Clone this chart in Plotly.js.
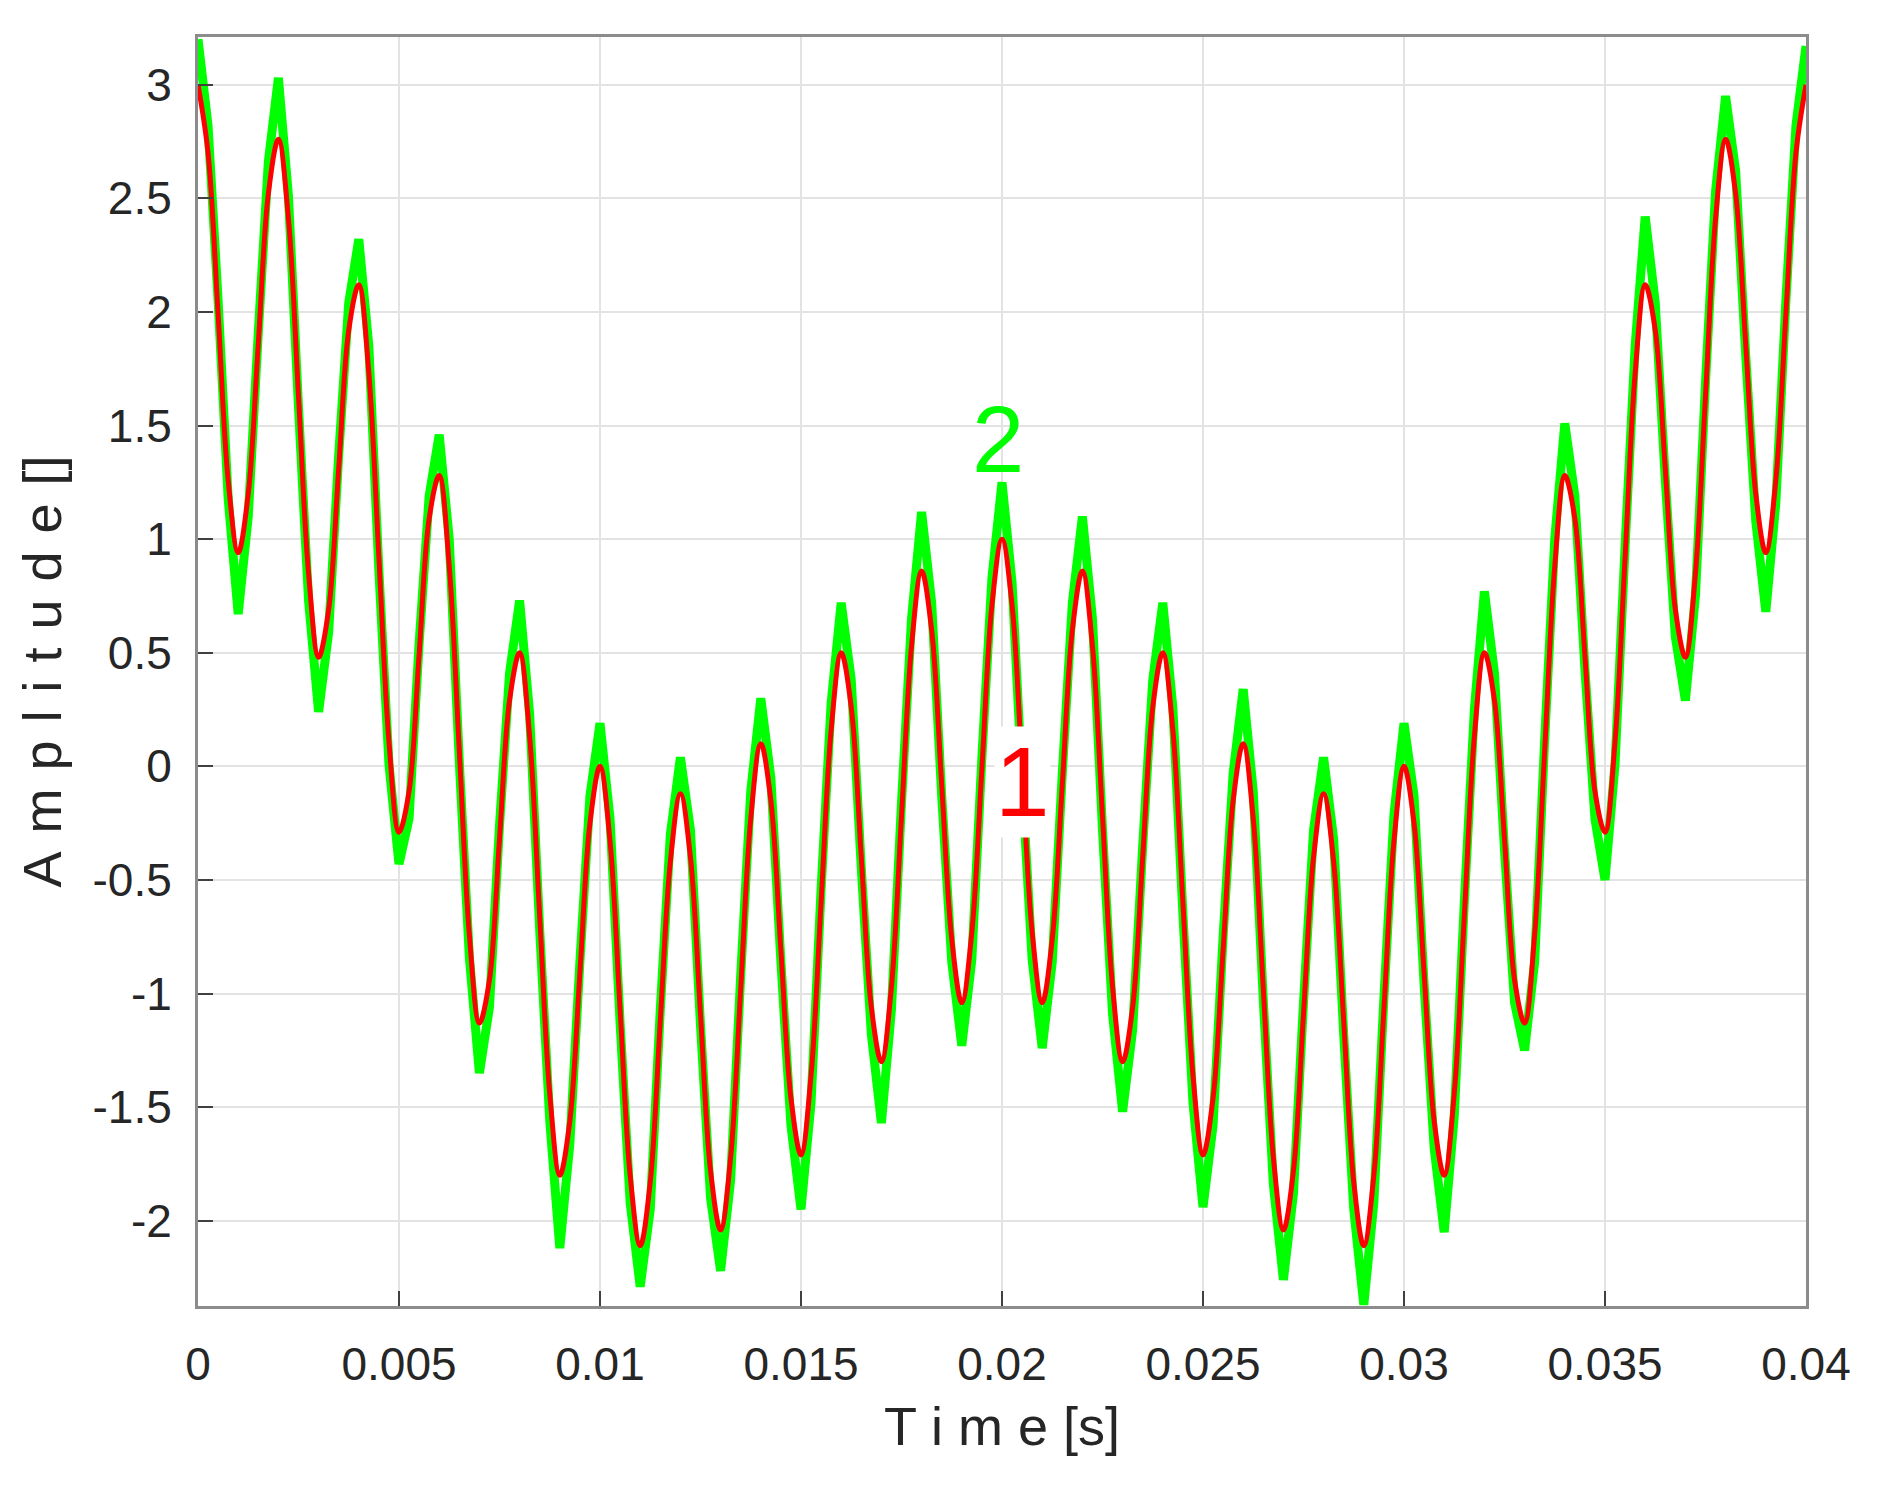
<!DOCTYPE html>
<html>
<head>
<meta charset="utf-8">
<script src="https://cdn.plot.ly/plotly-3.0.1.min.js"></script>
<style>
html,body{margin:0;padding:0;background:#fff;}
#chart{width:1894px;height:1488px;}
</style>
</head>
<body>
<div id="chart"></div>
<script>
// sample spacing of both signals (s)
var t0 = 0;
var dt = 0.00025;

// signal 1 (red, clean)
var signal1 = [
  3.00, 2.70, 1.99, 1.26, 0.94, 1.20, 1.86, 2.52,
  2.76, 2.41, 1.63, 0.85, 0.48, 0.69, 1.31, 1.92,
  2.12, 1.73, 0.92, 0.11, -0.29, -0.11, 0.49, 1.09,
  1.28, 0.88, 0.07, -0.74, -1.13, -0.94, -0.32, 0.29,
  0.50, 0.13, -0.66, -1.44, -1.80, -1.56, -0.91, -0.25,
  0.00, -0.33, -1.07, -1.80, -2.11, -1.83, -1.12, -0.42,
  -0.12, -0.40, -1.09, -1.78, -2.04, -1.72, -0.98, -0.23,
  0.10, -0.15, -0.81, -1.46, -1.71, -1.36, -0.60, 0.16,
  0.50, 0.26, -0.40, -1.06, -1.30, -0.97, -0.22, 0.53,
  0.86, 0.60, -0.08, -0.76, -1.04, -0.73, -0.01, 0.71,
  1.00,
  0.71, -0.01, -0.73, -1.04, -0.76, -0.08, 0.60, 0.86,
  0.53, -0.22, -0.97, -1.30, -1.06, -0.40, 0.26, 0.50,
  0.16, -0.60, -1.36, -1.71, -1.46, -0.81, -0.15, 0.10,
  -0.23, -0.98, -1.72, -2.04, -1.78, -1.09, -0.40, -0.12,
  -0.42, -1.12, -1.83, -2.11, -1.80, -1.07, -0.33, 0.00,
  -0.25, -0.91, -1.56, -1.80, -1.44, -0.66, 0.13, 0.50,
  0.29, -0.32, -0.94, -1.13, -0.74, 0.07, 0.88, 1.28,
  1.09, 0.49, -0.11, -0.29, 0.11, 0.92, 1.73, 2.12,
  1.92, 1.31, 0.69, 0.48, 0.85, 1.63, 2.41, 2.76,
  2.52, 1.86, 1.20, 0.94, 1.26, 1.99, 2.70, 3.00
];

// signal 2 (green, noisy)
var signal2 = [
  3.20, 2.82, 2.05, 1.18, 0.67, 1.10, 1.91, 2.66,
  3.03, 2.51, 1.58, 0.73, 0.24, 0.59, 1.37, 2.04,
  2.32, 1.85, 0.86, 0.01, -0.43, -0.23, 0.54, 1.19,
  1.46, 1.00, 0.02, -0.84, -1.35, -1.06, -0.26, 0.41,
  0.73, 0.23, -0.72, -1.56, -2.12, -1.66, -0.86, -0.13,
  0.19, -0.23, -1.13, -1.92, -2.29, -1.95, -1.07, -0.30,
  0.04, -0.28, -1.14, -1.90, -2.22, -1.82, -0.92, -0.11,
  0.30, -0.05, -0.86, -1.58, -1.95, -1.48, -0.54, 0.28,
  0.72, 0.38, -0.45, -1.18, -1.57, -1.07, -0.16, 0.65,
  1.12, 0.72, -0.13, -0.86, -1.23, -0.85, 0.04, 0.83,
  1.25,
  0.81, -0.07, -0.85, -1.24, -0.86, -0.03, 0.72, 1.10,
  0.65, -0.28, -1.09, -1.52, -1.16, -0.35, 0.38, 0.72,
  0.26, -0.65, -1.48, -1.94, -1.58, -0.75, -0.03, 0.34,
  -0.11, -1.03, -1.84, -2.26, -1.88, -1.04, -0.28, 0.04,
  -0.32, -1.18, -1.95, -2.37, -1.92, -1.02, -0.21, 0.19,
  -0.13, -0.96, -1.68, -2.05, -1.54, -0.60, 0.25, 0.77,
  0.41, -0.37, -1.04, -1.25, -0.86, 0.12, 1.00, 1.51,
  1.19, 0.43, -0.23, -0.50, 0.01, 0.97, 1.85, 2.42,
  2.04, 1.26, 0.57, 0.29, 0.75, 1.69, 2.53, 2.95,
  2.62, 1.81, 1.08, 0.68, 1.16, 2.05, 2.82, 3.17
];

var xTicks = [0, 0.005, 0.01, 0.015, 0.02, 0.025, 0.03, 0.035, 0.04];
var xTickLabels = ['0', '0.005', '0.01', '0.015', '0.02', '0.025', '0.03', '0.035', '0.04'];
var yTicks = [-2, -1.5, -1, -0.5, 0, 0.5, 1, 1.5, 2, 2.5, 3];
var yTickLabels = ['-2', '-1.5', '-1', '-0.5', '0', '0.5', '1', '1.5', '2', '2.5', '3'];

var FONT = 'Liberation Sans, Arial, Helvetica, sans-serif';
var SP = '\u2004';
var yTitle = ['A', 'm', 'p', 'l', 'i', 't', 'u', 'd', 'e', '[]'].join(SP);

var traces = [
  {
    type: 'scatter', mode: 'lines', name: '2',
    x0: t0, dx: dt, y: signal2,
    line: {color: '#00ff00', width: 9, shape: 'linear'},
    hoverinfo: 'skip'
  },
  {
    type: 'scatter', mode: 'lines', name: '1',
    x0: t0, dx: dt, y: signal1,
    line: {color: '#ff0000', width: 5, shape: 'spline', smoothing: 1},
    hoverinfo: 'skip'
  }
];

var axisCommon = {
  showline: true, linecolor: '#8c8c8c', linewidth: 3, mirror: true,
  showgrid: true, gridcolor: '#e3e3e3', gridwidth: 2,
  zeroline: false,
  ticks: 'inside', ticklen: 15, tickwidth: 2, tickcolor: '#404040',
  tickfont: {family: FONT, size: 46, color: '#262626'},
  tickmode: 'array'
};

var layout = {
  width: 1894, height: 1488,
  paper_bgcolor: '#ffffff', plot_bgcolor: '#ffffff',
  showlegend: false,
  margin: {l: 198, r: 88, t: 37, b: 182, pad: 0},
  xaxis: Object.assign({}, axisCommon, {
    range: [0, 0.04],
    tickvals: xTicks, ticktext: xTickLabels,
    ticklabelstandoff: 16,
    title: {text: 'T i m e [s]', font: {family: FONT, size: 54, color: '#262626'}, standoff: 18}
  }),
  yaxis: Object.assign({}, axisCommon, {
    range: [-2.375, 3.21],
    tickvals: yTicks, ticktext: yTickLabels,
    ticklabelstandoff: 14,
    title: {text: yTitle, font: {family: FONT, size: 54, color: '#262626'}, standoff: 14}
  }),
  annotations: [
    {x: 0.0199, y: 1.44, xref: 'x', yref: 'y', text: '2', showarrow: false,
     font: {family: FONT, size: 94, color: '#00ff00'}},
    {x: 0.0205, y: -0.07, xref: 'x', yref: 'y', text: '1', showarrow: false,
     bgcolor: '#ffffff', borderpad: 0,
     font: {family: FONT, size: 98, color: '#ff0000'}}
  ]
};

Plotly.newPlot('chart', traces, layout, {staticPlot: true, displayModeBar: false});
</script>
</body>
</html>
